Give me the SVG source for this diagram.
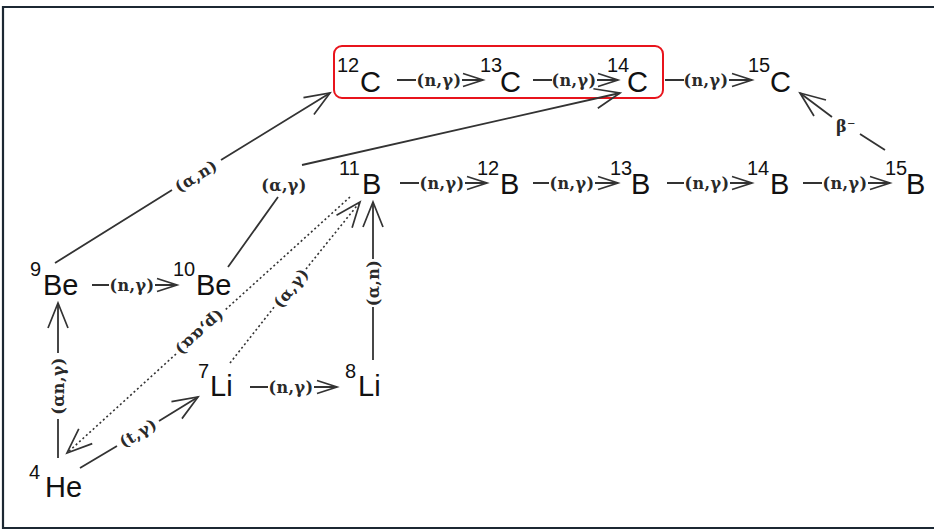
<svg xmlns="http://www.w3.org/2000/svg" width="934" height="532" viewBox="0 0 934 532">
<style>
.n{font-family:"Liberation Sans",Arial,sans-serif;font-size:29px;fill:#111}
.s{font-size:20px}
.l{font-family:"DejaVu Serif",serif;font-size:16px;font-weight:bold;fill:#2a2a2a;text-anchor:middle;letter-spacing:0.4px}
.c{fill:none;stroke:#333;stroke-width:1.8}
.d{stroke-dasharray:2 2.6;stroke-width:1.6}
</style>
<defs>
<marker id="a" markerUnits="userSpaceOnUse" markerWidth="30" markerHeight="30" viewBox="-25 -12 30 24" refX="0" refY="0" orient="auto" overflow="visible">
<path d="M-20,-6.5 L0,0 L-20,6.5" fill="none" stroke="#333" stroke-width="1.7"/>
</marker>
<marker id="b" markerUnits="userSpaceOnUse" markerWidth="30" markerHeight="30" viewBox="-25 -12 30 24" refX="0" refY="0" orient="auto" overflow="visible">
<path d="M-25,-10 L0,0 L-25,10" fill="none" stroke="#333" stroke-width="1.7"/>
</marker>
</defs>
<rect width="934" height="532" fill="#fff"/>
<path d="M936,7 L3,7 L3,528 L936,528" fill="none" stroke="#1c2833" stroke-width="2.2"/>
<rect x="334" y="46" width="329" height="52" rx="8" fill="none" stroke="#e8141c" stroke-width="2"/>

<g id="connectors">
<g id="e-12C-13C"><path class="c" d="M397,80 L416,80 M462,80 L483,80" marker-end="url(#a)"/><text class="l" x="439" y="80" dy="0.35em">(n,γ)</text></g>
<g id="e-13C-14C"><path class="c" d="M533,80 L552,80 M597,80 L618,80" marker-end="url(#a)"/><text class="l" x="574" y="80" dy="0.35em">(n,γ)</text></g>
<g id="e-14C-15C"><path class="c" d="M665,80 L684,80 M729,80 L752,80" marker-end="url(#a)"/><text class="l" x="706" y="80" dy="0.35em">(n,γ)</text></g>
<g id="e-11B-12B"><path class="c" d="M400,183 L419,183 M465,183 L487,183" marker-end="url(#a)"/><text class="l" x="442" y="183" dy="0.35em">(n,γ)</text></g>
<g id="e-12B-13B"><path class="c" d="M533,183 L549,183 M595,183 L618,183" marker-end="url(#a)"/><text class="l" x="572" y="183" dy="0.35em">(n,γ)</text></g>
<g id="e-13B-14B"><path class="c" d="M667,183 L684,183 M730,183 L752,183" marker-end="url(#a)"/><text class="l" x="707" y="183" dy="0.35em">(n,γ)</text></g>
<g id="e-14B-15B"><path class="c" d="M803,183 L822,183 M868,183 L890,183" marker-end="url(#a)"/><text class="l" x="845" y="183" dy="0.35em">(n,γ)</text></g>
<g id="e-9Be-10Be"><path class="c" d="M92,285 L109,285 M155,285 L177,285" marker-end="url(#a)"/><text class="l" x="132" y="285" dy="0.35em">(n,γ)</text></g>
<g id="e-7Li-8Li"><path class="c" d="M250,387 L268,387 M314,387 L337,387" marker-end="url(#a)"/><text class="l" x="291" y="387" dy="0.35em">(n,γ)</text></g>
<g id="e-15B-15C"><path class="c" d="M885,150 L860,134 M832,117 L800,93" marker-end="url(#b)"/><text class="l" x="846" y="126" dy="0.35em">β⁻</text></g>
<g id="e-9Be-12C"><path class="c" d="M55,263 L172,190 M221,160 L330,93" marker-end="url(#b)"/><text class="l" transform="translate(196,176) rotate(-31.7)" dy="0.35em">(α,n)</text></g>
<g id="e-10Be-14C"><path class="c" d="M228,267 L278,197 M302,165 L620,93" marker-end="url(#b)"/><text class="l" x="284" y="185" dy="0.35em">(α,γ)</text></g>
<g id="e-4He-9Be"><path class="c" d="M58,458 L58,419 M58,353 L58,303" marker-end="url(#b)"/><text class="l" transform="translate(58,386) rotate(-90)" dy="0.35em">(αn,γ)</text></g>
<g id="e-4He-7Li"><path class="c" d="M80,468 L117,446 M159,421 L198,397" marker-end="url(#b)"/><text class="l" transform="translate(138,433) rotate(-31)" dy="0.35em">(t,γ)</text></g>
<g id="e-8Li-11B"><path class="c" d="M373,360 L373,307 M373,259 L373,202" marker-end="url(#b)"/><text class="l" transform="translate(373,283) rotate(-90)" dy="0.35em">(α,n)</text></g>
<g id="e-11B-4He"><path class="c d" d="M350,197 L224,311 M176,354 L67,453" marker-end="url(#b)"/><text class="l" transform="translate(200,333) rotate(138)" dy="0.35em">(p,αα)</text></g>
<g id="e-7Li-11B"><path class="c d" d="M230,363 L275,306 M306,269 L360,202" marker-end="url(#b)"/><text class="l" transform="translate(291,288) rotate(-51)" dy="0.35em">(α,γ)</text></g>
</g>

<g id="n-12C" class="n"><text><tspan class="s" x="337" y="72">12</tspan><tspan x="360" y="92">C</tspan></text></g>
<g id="n-13C" class="n"><text><tspan class="s" x="480" y="72">13</tspan><tspan x="500" y="92">C</tspan></text></g>
<g id="n-14C" class="n"><text><tspan class="s" x="607" y="72">14</tspan><tspan x="627" y="92">C</tspan></text></g>
<g id="n-15C" class="n"><text><tspan class="s" x="748" y="72">15</tspan><tspan x="770" y="92">C</tspan></text></g>
<g id="n-11B" class="n"><text><tspan class="s" x="339" y="175">11</tspan><tspan x="362" y="194">B</tspan></text></g>
<g id="n-12B" class="n"><text><tspan class="s" x="477" y="175">12</tspan><tspan x="500" y="194">B</tspan></text></g>
<g id="n-13B" class="n"><text><tspan class="s" x="610" y="175">13</tspan><tspan x="631" y="194">B</tspan></text></g>
<g id="n-14B" class="n"><text><tspan class="s" x="747" y="175">14</tspan><tspan x="770" y="194">B</tspan></text></g>
<g id="n-15B" class="n"><text><tspan class="s" x="885" y="175">15</tspan><tspan x="906" y="194">B</tspan></text></g>
<g id="n-9Be" class="n"><text><tspan class="s" x="30" y="276">9</tspan><tspan x="43" y="295">Be</tspan></text></g>
<g id="n-10Be" class="n"><text><tspan class="s" x="173" y="276">10</tspan><tspan x="196" y="295">Be</tspan></text></g>
<g id="n-7Li" class="n"><text><tspan class="s" x="198" y="378">7</tspan><tspan x="210" y="396">Li</tspan></text></g>
<g id="n-8Li" class="n"><text><tspan class="s" x="345" y="378">8</tspan><tspan x="358" y="396">Li</tspan></text></g>
<g id="n-4He" class="n"><text><tspan class="s" x="29" y="479">4</tspan><tspan x="45" y="497">He</tspan></text></g>
</svg>
